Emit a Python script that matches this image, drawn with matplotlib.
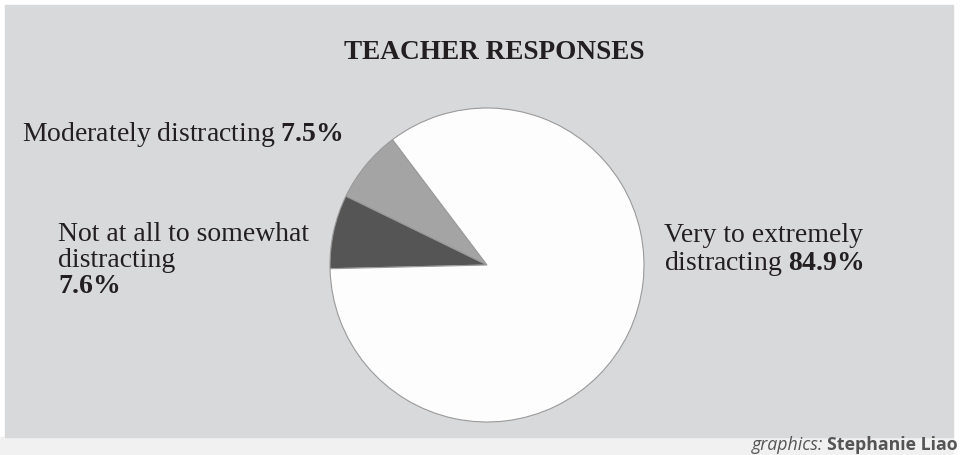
import matplotlib
matplotlib.use("Agg")
import matplotlib.pyplot as plt
from matplotlib.patches import Rectangle

# data
categories = ["Moderately distracting", "Not at all to somewhat distracting", "Very to extremely distracting"]
shares = [7.5, 7.6, 84.9]
slice_colors = ["#a4a4a4", "#555555", "#fdfdfd"]
title = "TEACHER RESPONSES"
credit_it = "graphics:"
credit_bold = "Stephanie Liao"

plt.rcParams["font.family"] = ["Liberation Serif", "DejaVu Serif"]
plt.rcParams["mathtext.fontset"] = "custom"
plt.rcParams["mathtext.rm"] = "Liberation Serif"
plt.rcParams["mathtext.bf"] = "Liberation Serif:bold"

W, H = 966, 455
fig = plt.figure(figsize=(W / 100, H / 100), dpi=100, facecolor="white")
ax = fig.add_axes([0, 0, 1, 1])

wedges, _ = ax.pie(shares, colors=slice_colors, startangle=127, counterclock=True,
                   center=(487, 190), radius=157,
                   wedgeprops=dict(edgecolor="#9a9a9a", linewidth=0.8))
for w in wedges:
    w.set_zorder(2)

# pie() resets the limits, so set them afterwards
ax.set_xlim(0, W)
ax.set_ylim(0, H)
ax.set_aspect("equal")
ax.axis("off")

# panel + credit strip
ax.add_patch(Rectangle((0, 0), 953, 18, color="#f1f1f1", zorder=0))
ax.add_patch(Rectangle((5, 18), 948, 432, color="#d8d9db", zorder=0))

ax.text(494, 396, title, ha="center", va="baseline", fontsize=19.6,
        fontweight="bold", color="#231f20")

txt = "#231f20"
fs = 20
ax.text(22, 314, categories[0] + " " + r"$\mathbf{%s\%%}$" % shares[0],
        ha="left", va="baseline", fontsize=fs, color=txt)
ax.text(58, 162, "Not at all to somewhat\ndistracting\n" + r"$\mathbf{%s\%%}$" % shares[1],
        ha="left", va="baseline", fontsize=fs, color=txt, linespacing=1.05)
ax.text(664, 185, "Very to extremely\ndistracting " + r"$\mathbf{%s\%%}$" % shares[2],
        ha="left", va="baseline", fontsize=fs, color=txt, linespacing=1.05)

# credit line
cb = ax.text(958, 5, credit_bold, ha="right", va="baseline", fontsize=12.8,
             fontweight="bold", family="Open Sans", color="#555555")
ax.annotate(credit_it, xy=(0, 0), xytext=(-3, 0), textcoords="offset points",
            xycoords=cb, ha="right", va="bottom",
            fontsize=12.8, style="italic", family="Open Sans", color="#555555")

fig.savefig("out.png", dpi=100, facecolor=fig.get_facecolor())
